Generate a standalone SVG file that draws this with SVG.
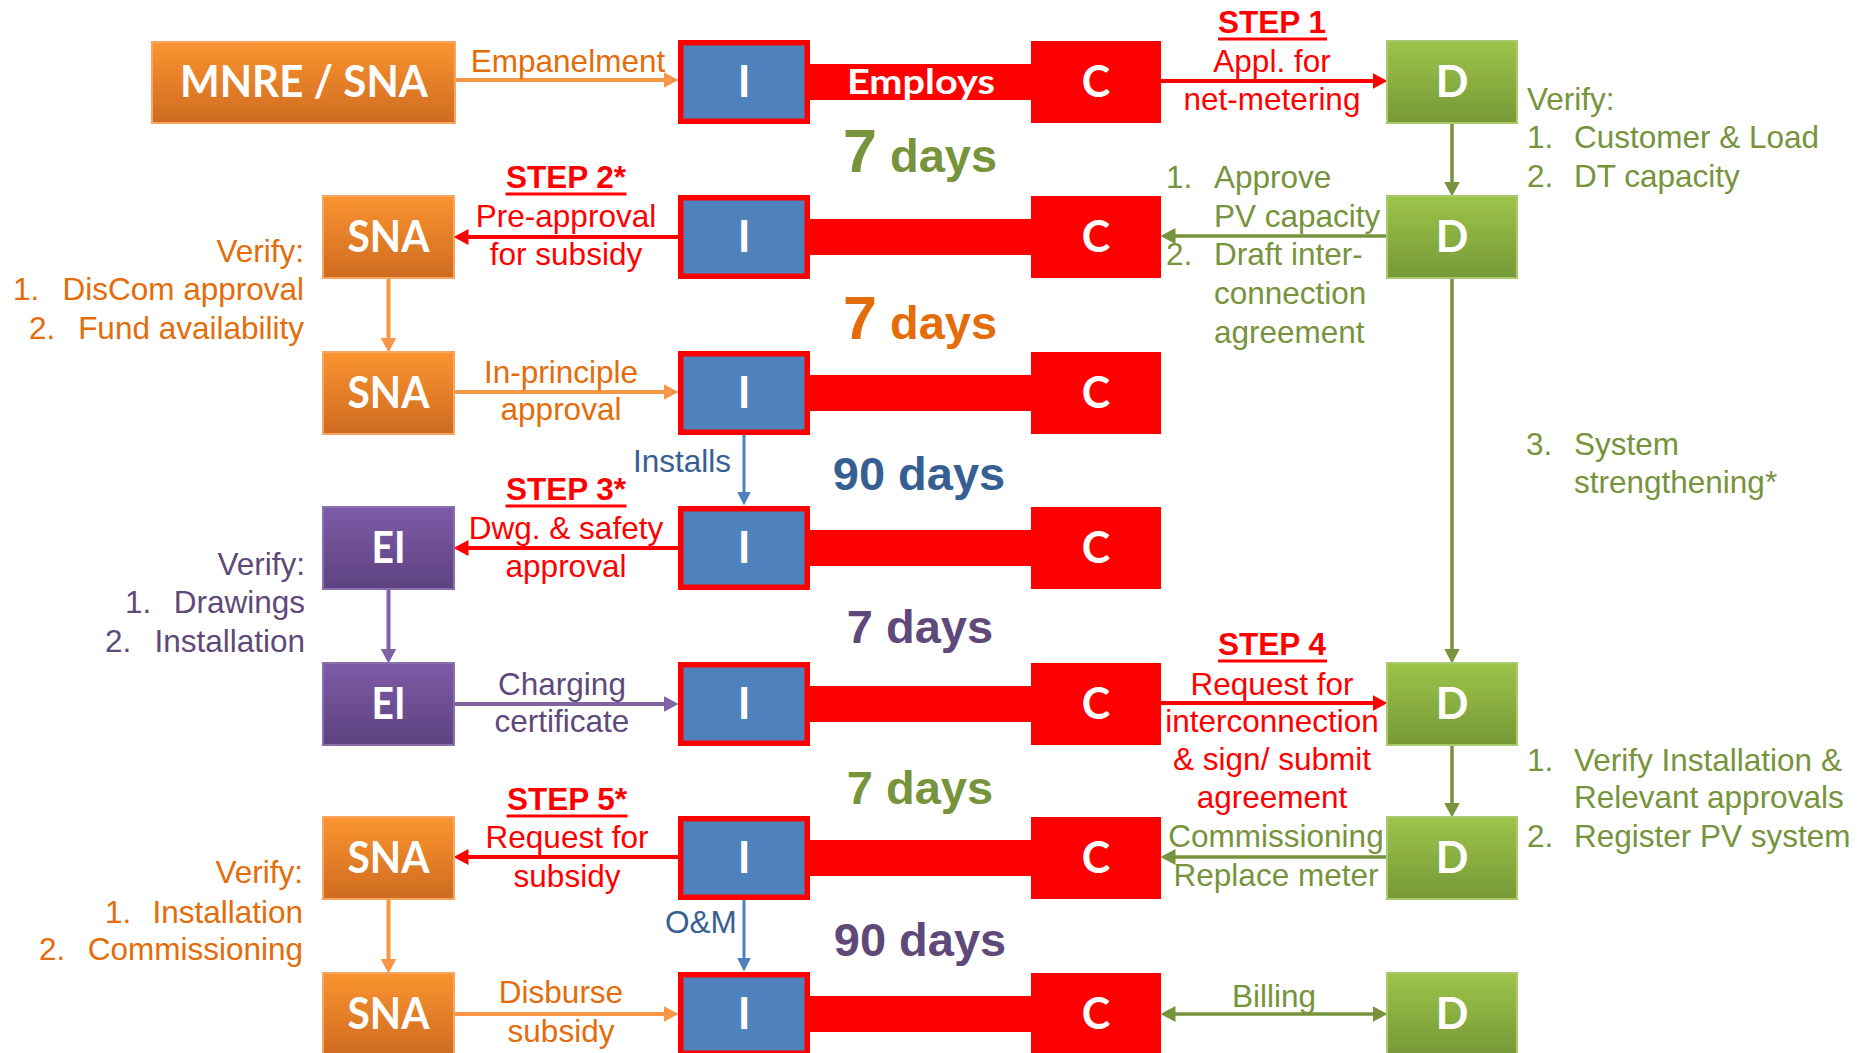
<svg xmlns="http://www.w3.org/2000/svg" width="1873" height="1053" viewBox="0 0 1873 1053">
  <defs>
    <linearGradient id="gOrange" x1="0" y1="0" x2="0" y2="1">
      <stop offset="0" stop-color="#FB9430"/>
      <stop offset="1" stop-color="#CE6B20"/>
    </linearGradient>
    <linearGradient id="gGreen" x1="0" y1="0" x2="0" y2="1">
      <stop offset="0" stop-color="#9DC44A"/>
      <stop offset="1" stop-color="#769937"/>
    </linearGradient>
    <linearGradient id="gPurple" x1="0" y1="0" x2="0" y2="1">
      <stop offset="0" stop-color="#7E5BA7"/>
      <stop offset="1" stop-color="#5D4280"/>
    </linearGradient>
    <marker id="aOrange" markerUnits="userSpaceOnUse" markerWidth="16" markerHeight="16" viewBox="0 0 16 16" refX="0.5" refY="8" orient="auto-start-reverse">
      <path d="M0,0 L15,8 L0,16 z" fill="#F79646"/>
    </marker>
    <marker id="aRed" markerUnits="userSpaceOnUse" markerWidth="16" markerHeight="16" viewBox="0 0 16 16" refX="0.5" refY="8" orient="auto-start-reverse">
      <path d="M0,0 L15,8 L0,16 z" fill="#FF0000"/>
    </marker>
    <marker id="aGreen" markerUnits="userSpaceOnUse" markerWidth="16" markerHeight="16" viewBox="0 0 16 16" refX="0.5" refY="8" orient="auto-start-reverse">
      <path d="M0,0 L15,8 L0,16 z" fill="#77933C"/>
    </marker>
    <marker id="aPurple" markerUnits="userSpaceOnUse" markerWidth="16" markerHeight="16" viewBox="0 0 16 16" refX="0.5" refY="8" orient="auto-start-reverse">
      <path d="M0,0 L15,8 L0,16 z" fill="#8064A2"/>
    </marker>
    <marker id="aBlue" markerUnits="userSpaceOnUse" markerWidth="14" markerHeight="14" viewBox="0 0 14 14" refX="0.5" refY="7" orient="auto-start-reverse">
      <path d="M0,0 L14,7 L0,14 z" fill="#4F81BD"/>
    </marker>
    <style>
      .orange { fill: url(#gOrange); stroke: #F7A560; stroke-width: 2; }
      .green { fill: url(#gGreen); stroke: #A8CA6C; stroke-width: 2; }
      .purple { fill: url(#gPurple); stroke: #8A6FAE; stroke-width: 2; }
      .inst { fill: #4F81BD; stroke: #FF0000; stroke-width: 5.5; }
      .cust { fill: #FF0000; }
      .bar { fill: #FF0000; }
      .bt { font-family: Lato, "Liberation Sans", sans-serif; font-weight: bold; font-size: 43px; fill: #FFFFFF; text-anchor: middle; }
      .bt.small { font-size: 35px; }
      .lb { font-family: "Liberation Sans", Arial, sans-serif; font-size: 31.5px; }
      .mid { text-anchor: middle; }
      .end { text-anchor: end; }
      .step { font-family: "Liberation Sans", Arial, sans-serif; font-size: 31.5px; font-weight: bold; fill: #FF0000; text-anchor: middle; }
      .days { font-family: "Liberation Sans", Arial, sans-serif; font-size: 47px; font-weight: bold; text-anchor: middle; }
      .big { font-size: 61px; }
      .tO { fill: #E46C0A; }
      .tR { fill: #FF0000; }
      .tG { fill: #77933C; }
      .tP { fill: #5F497A; }
      .tB { fill: #376092; }
      .cO { stroke: #F79646; stroke-width: 4; fill: none; marker-end: url(#aOrange); }
      .cR { stroke: #FF0000; stroke-width: 4; fill: none; marker-end: url(#aRed); }
      .cG { stroke: #77933C; stroke-width: 3.5; fill: none; marker-end: url(#aGreen); }
      .cP { stroke: #8064A2; stroke-width: 4; fill: none; marker-end: url(#aPurple); }
      .cB { stroke: #4F81BD; stroke-width: 3; fill: none; marker-end: url(#aBlue); }
    </style>
  </defs>

  <rect width="1873" height="1053" fill="#FFFFFF"/>

  <!-- red installer-consumer links -->
  <g id="links">
    <rect class="bar" x="807" y="64" width="226" height="36"/>
    <rect class="bar" x="807" y="219" width="226" height="36"/>
    <rect class="bar" x="807" y="375" width="226" height="36"/>
    <rect class="bar" x="807" y="530" width="226" height="36"/>
    <rect class="bar" x="807" y="686" width="226" height="36"/>
    <rect class="bar" x="807" y="840" width="226" height="36"/>
    <rect class="bar" x="807" y="996" width="226" height="36"/>
    <text class="bt small" x="921" y="94" textLength="148" lengthAdjust="spacingAndGlyphs">Employs</text>
  </g>

  <!-- connectors -->
  <g id="connectors">
    <!-- orange -->
    <path class="cO" d="M455,80 H664"/>
    <path class="cO" d="M388.5,278 V338"/>
    <path class="cO" d="M454,392 H664"/>
    <path class="cO" d="M388.5,899 V959"/>
    <path class="cO" d="M454,1014 H664"/>
    <!-- red -->
    <path class="cR" d="M1161,81 H1373"/>
    <path class="cR" d="M678,237 H468"/>
    <path class="cR" d="M678,548 H468"/>
    <path class="cR" d="M1161,703 H1373"/>
    <path class="cR" d="M678,857 H468"/>
    <!-- green -->
    <path class="cG" d="M1452,123 V182"/>
    <path class="cG" d="M1387,236 H1175"/>
    <path class="cG" d="M1452,278 V649"/>
    <path class="cG" d="M1452,745 V803"/>
    <path class="cG" d="M1387,857 H1175"/>
    <path class="cG" d="M1175,1014 H1373" marker-start="url(#aGreen)"/>
    <!-- purple -->
    <path class="cP" d="M388.5,589 V649"/>
    <path class="cP" d="M454,704 H664"/>
    <!-- blue -->
    <path class="cB" d="M744,435 V492"/>
    <path class="cB" d="M744,900 V958"/>
  </g>

  <!-- row 1 -->
  <g id="mnre-sna">
    <rect class="orange" x="152" y="42" width="303" height="81"/>
    <text class="bt" x="304" y="97" textLength="248" lengthAdjust="spacingAndGlyphs">MNRE / SNA</text>
  </g>
  <g id="installer-1">
    <rect class="inst" x="680.75" y="42.75" width="126.5" height="78.5"/>
    <text class="bt" x="744" y="97">I</text>
  </g>
  <g id="consumer-1">
    <rect class="cust" x="1031" y="41" width="130" height="82"/>
    <text class="bt" x="1096" y="97">C</text>
  </g>
  <g id="discom-1">
    <rect class="green" x="1387" y="41" width="130" height="82"/>
    <text class="bt" x="1452" y="97">D</text>
  </g>

  <!-- row 2 -->
  <g id="sna-2">
    <rect class="orange" x="323" y="196" width="131" height="82"/>
    <text class="bt" x="388.5" y="252" textLength="82" lengthAdjust="spacingAndGlyphs">SNA</text>
  </g>
  <g id="installer-2">
    <rect class="inst" x="680.75" y="197.75" width="126.5" height="78.5"/>
    <text class="bt" x="744" y="252">I</text>
  </g>
  <g id="consumer-2">
    <rect class="cust" x="1031" y="196" width="130" height="82"/>
    <text class="bt" x="1096" y="252">C</text>
  </g>
  <g id="discom-2">
    <rect class="green" x="1387" y="196" width="130" height="82"/>
    <text class="bt" x="1452" y="252">D</text>
  </g>

  <!-- row 3 -->
  <g id="sna-3">
    <rect class="orange" x="323" y="352" width="131" height="82"/>
    <text class="bt" x="388.5" y="408" textLength="82" lengthAdjust="spacingAndGlyphs">SNA</text>
  </g>
  <g id="installer-3">
    <rect class="inst" x="680.75" y="353.75" width="126.5" height="78.5"/>
    <text class="bt" x="744" y="408">I</text>
  </g>
  <g id="consumer-3">
    <rect class="cust" x="1031" y="352" width="130" height="82"/>
    <text class="bt" x="1096" y="408">C</text>
  </g>

  <!-- row 4 -->
  <g id="ei-4">
    <rect class="purple" x="323" y="507" width="131" height="82"/>
    <text class="bt" x="388.5" y="563" textLength="34" lengthAdjust="spacingAndGlyphs">EI</text>
  </g>
  <g id="installer-4">
    <rect class="inst" x="680.75" y="508.75" width="126.5" height="78.5"/>
    <text class="bt" x="744" y="563">I</text>
  </g>
  <g id="consumer-4">
    <rect class="cust" x="1031" y="507" width="130" height="82"/>
    <text class="bt" x="1096" y="563">C</text>
  </g>

  <!-- row 5 -->
  <g id="ei-5">
    <rect class="purple" x="323" y="663" width="131" height="82"/>
    <text class="bt" x="388.5" y="719" textLength="34" lengthAdjust="spacingAndGlyphs">EI</text>
  </g>
  <g id="installer-5">
    <rect class="inst" x="680.75" y="664.75" width="126.5" height="78.5"/>
    <text class="bt" x="744" y="719">I</text>
  </g>
  <g id="consumer-5">
    <rect class="cust" x="1031" y="663" width="130" height="82"/>
    <text class="bt" x="1096" y="719">C</text>
  </g>
  <g id="discom-5">
    <rect class="green" x="1387" y="663" width="130" height="82"/>
    <text class="bt" x="1452" y="719">D</text>
  </g>

  <!-- row 6 -->
  <g id="sna-6">
    <rect class="orange" x="323" y="817" width="131" height="82"/>
    <text class="bt" x="388.5" y="873" textLength="82" lengthAdjust="spacingAndGlyphs">SNA</text>
  </g>
  <g id="installer-6">
    <rect class="inst" x="680.75" y="818.75" width="126.5" height="78.5"/>
    <text class="bt" x="744" y="873">I</text>
  </g>
  <g id="consumer-6">
    <rect class="cust" x="1031" y="817" width="130" height="82"/>
    <text class="bt" x="1096" y="873">C</text>
  </g>
  <g id="discom-6">
    <rect class="green" x="1387" y="817" width="130" height="82"/>
    <text class="bt" x="1452" y="873">D</text>
  </g>

  <!-- row 7 -->
  <g id="sna-7">
    <rect class="orange" x="323" y="973" width="131" height="82"/>
    <text class="bt" x="388.5" y="1029" textLength="82" lengthAdjust="spacingAndGlyphs">SNA</text>
  </g>
  <g id="installer-7">
    <rect class="inst" x="680.75" y="974.75" width="126.5" height="78.5"/>
    <text class="bt" x="744" y="1029">I</text>
  </g>
  <g id="consumer-7">
    <rect class="cust" x="1031" y="973" width="130" height="82"/>
    <text class="bt" x="1096" y="1029">C</text>
  </g>
  <g id="discom-7">
    <rect class="green" x="1387" y="973" width="130" height="82"/>
    <text class="bt" x="1452" y="1029">D</text>
  </g>

  <!-- connector labels -->
  <g id="labels">
    <text class="lb tO mid" x="568" y="72">Empanelment</text>

    <text class="step" x="1272" y="33">STEP 1</text>
    <rect x="1218" y="37.5" width="109" height="3" fill="#FF0000"/>
    <text class="lb tR mid" x="1272" y="72">Appl. for</text>
    <text class="lb tR mid" x="1272" y="110">net-metering</text>

    <text class="step" x="566" y="188">STEP 2*</text>
    <rect x="505.5" y="192.5" width="121" height="3" fill="#FF0000"/>
    <text class="lb tR mid" x="566" y="227">Pre-approval</text>
    <text class="lb tR mid" x="566" y="265">for subsidy</text>

    <text class="lb tO mid" x="561" y="383">In-principle</text>
    <text class="lb tO mid" x="561" y="420">approval</text>

    <text class="lb tB" x="633" y="472">Installs</text>

    <text class="step" x="566" y="500">STEP 3*</text>
    <rect x="505.5" y="504.5" width="121" height="3" fill="#FF0000"/>
    <text class="lb tR mid" x="566" y="539">Dwg. &amp; safety</text>
    <text class="lb tR mid" x="566" y="577">approval</text>

    <text class="lb tP mid" x="562" y="695">Charging</text>
    <text class="lb tP mid" x="562" y="732">certificate</text>

    <text class="step" x="1272" y="655">STEP 4</text>
    <rect x="1218" y="659.5" width="109" height="3" fill="#FF0000"/>
    <text class="lb tR mid" x="1272" y="695">Request for</text>
    <text class="lb tR mid" x="1272" y="732">interconnection</text>
    <text class="lb tR mid" x="1272" y="770">&amp; sign/ submit</text>
    <text class="lb tR mid" x="1272" y="808">agreement</text>

    <text class="lb tG mid" x="1276" y="847">Commissioning</text>
    <text class="lb tG mid" x="1276" y="886">Replace meter</text>

    <text class="step" x="567" y="810">STEP 5*</text>
    <rect x="506.5" y="814.5" width="121" height="3" fill="#FF0000"/>
    <text class="lb tR mid" x="567" y="848">Request for</text>
    <text class="lb tR mid" x="567" y="887">subsidy</text>

    <text class="lb tB" x="665" y="933">O&amp;M</text>

    <text class="lb tO mid" x="561" y="1003">Disburse</text>
    <text class="lb tO mid" x="561" y="1042">subsidy</text>

    <text class="lb tG mid" x="1274" y="1007">Billing</text>
  </g>

  <!-- durations between rows -->
  <g id="durations">
    <text class="days tG" x="920" y="172"><tspan class="big">7</tspan> days</text>
    <text class="days tO" x="920" y="339"><tspan class="big">7</tspan> days</text>
    <text class="days tB" x="919" y="490">90 days</text>
    <text class="days tP" x="920" y="643">7 days</text>
    <text class="days tG" x="920" y="804">7 days</text>
    <text class="days tP" x="920" y="956">90 days</text>
  </g>

  <!-- verification notes -->
  <g id="notes">
    <!-- DisCom, application check -->
    <text class="lb tG" x="1527" y="110">Verify:</text>
    <text class="lb tG" x="1527" y="148">1.</text>
    <text class="lb tG" x="1574" y="148">Customer &amp; Load</text>
    <text class="lb tG" x="1527" y="187">2.</text>
    <text class="lb tG" x="1574" y="187">DT capacity</text>

    <!-- DisCom reply -->
    <text class="lb tG" x="1166" y="188">1.</text>
    <text class="lb tG" x="1214" y="188">Approve</text>
    <text class="lb tG" x="1214" y="227">PV capacity</text>
    <text class="lb tG" x="1166" y="265">2.</text>
    <text class="lb tG" x="1214" y="265">Draft inter-</text>
    <text class="lb tG" x="1214" y="304">connection</text>
    <text class="lb tG" x="1214" y="343">agreement</text>

    <text class="lb tG" x="1526" y="455">3.</text>
    <text class="lb tG" x="1574" y="455">System</text>
    <text class="lb tG" x="1574" y="493">strengthening*</text>

    <!-- DisCom, installation check -->
    <text class="lb tG" x="1527" y="771">1.</text>
    <text class="lb tG" x="1574" y="771">Verify Installation &amp;</text>
    <text class="lb tG" x="1574" y="808">Relevant approvals</text>
    <text class="lb tG" x="1527" y="847">2.</text>
    <text class="lb tG" x="1574" y="847">Register PV system</text>

    <!-- SNA pre-approval check -->
    <text class="lb tO end" x="304" y="262">Verify:</text>
    <text class="lb tO" x="13" y="300">1.</text>
    <text class="lb tO end" x="304" y="300">DisCom approval</text>
    <text class="lb tO" x="29" y="339">2.</text>
    <text class="lb tO end" x="304" y="339">Fund availability</text>

    <!-- Electrical inspector check -->
    <text class="lb tP end" x="305" y="575">Verify:</text>
    <text class="lb tP" x="125" y="613">1.</text>
    <text class="lb tP end" x="305" y="613">Drawings</text>
    <text class="lb tP" x="105" y="652">2.</text>
    <text class="lb tP end" x="305" y="652">Installation</text>

    <!-- SNA subsidy check -->
    <text class="lb tO end" x="303" y="883">Verify:</text>
    <text class="lb tO" x="105" y="923">1.</text>
    <text class="lb tO end" x="303" y="923">Installation</text>
    <text class="lb tO" x="39" y="960">2.</text>
    <text class="lb tO end" x="303" y="960">Commissioning</text>
  </g>
</svg>
